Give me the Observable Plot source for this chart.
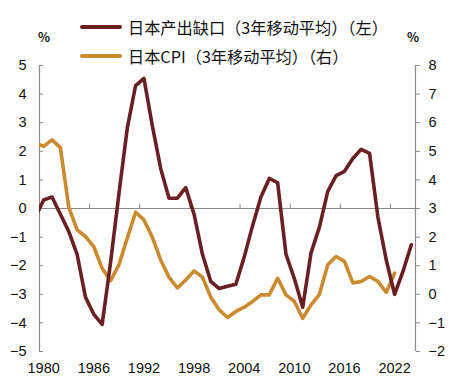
<!DOCTYPE html>
<html><head><meta charset="utf-8">
<script src="https://cdn.jsdelivr.net/npm/d3@7"></script>
<script src="https://cdn.jsdelivr.net/npm/@observablehq/plot@0.6"></script>
<style>
body{margin:0;background:#fff;}
#wrap{position:relative;width:458px;height:387px;overflow:hidden;}
.leg{position:absolute;left:80px;height:22px;line-height:22px;font-family:"Noto Sans CJK SC";font-size:16.2px;color:#111;display:flex;align-items:center;white-space:nowrap;}
.leg i{display:inline-block;width:42px;height:4px;margin-right:6px;border-radius:2px;}
.pct{position:absolute;top:27px;font-family:"Noto Sans CJK SC";font-weight:bold;font-size:12.5px;color:#111;}
</style></head>
<body>
<div id="wrap">
<div id="chart"></div>
<div class="leg" style="top:16px"><i style="background:#6a1f23"></i>日本产出缺口（3年移动平均）（左）</div>
<div class="leg" style="top:45px"><i style="background:#cc8a2e"></i>日本CPI（3年移动平均）（右）</div>
<div class="pct" style="left:38px">%</div>
<div class="pct" style="left:407px">%</div>
</div>
<script>
// Output gap (left axis, %), 3-yr moving average
const gapYears = d3.range(1979, 2025);
const gapValues = [-0.3, 0.3, 0.4, -0.2, -0.8, -1.6, -3.1, -3.7, -4.05, -1.9,
  0.5, 2.8, 4.3, 4.55, 2.9, 1.4, 0.36, 0.36, 0.73, -0.2,
  -1.6, -2.55, -2.8, -2.72, -2.65, -1.7, -0.6, 0.4, 1.05, 0.9,
  -1.6, -2.45, -3.45, -1.55, -0.65, 0.6, 1.15, 1.3, 1.75, 2.07,
  1.93, -0.3, -1.8, -3.0, -2.2, -1.27];
// CPI (right axis, %), 3-yr moving average
const cpiYears = d3.range(1979, 2023);
const cpiValues = [5.3, 5.17, 5.4, 5.13, 3.05, 2.25, 2.02, 1.67, 0.91, 0.47,
  1.03, 1.96, 2.87, 2.6, 2.0, 1.2, 0.6, 0.22, 0.5, 0.82,
  0.6, -0.1, -0.54, -0.81, -0.6, -0.45, -0.25, -0.02, -0.02, 0.56,
  -0.02, -0.25, -0.84, -0.37, 0.0, 1.03, 1.32, 1.15, 0.4, 0.45,
  0.62, 0.45, 0.07, 0.74];
const leftTicks = [-5, -4, -3, -2, -1, 0, 1, 2, 3, 4, 5];
const rightTicks = [-2, -1, 0, 1, 2, 3, 4, 5, 6, 7, 8];
const rightOffset = 3; // right axis value = left axis value + 3
const xTickYears = [1980, 1986, 1992, 1998, 2004, 2010, 2016, 2022];

const gapData = gapYears.map((year, i) => ({year, value: gapValues[i]}));
const cpiData = cpiYears.map((year, i) => ({year, value: cpiValues[i]}));
const fmt = d => d < 0 ? "\u2212" + Math.abs(d) : String(d);
const axisGray = "#8a8a8a";

const chart = Plot.plot({
  width: 458, height: 387,
  marginLeft: 39, marginRight: 43, marginTop: 65, marginBottom: 36,
  x: {domain: [1979.5, 2024.5]},
  y: {domain: [-5, 5]},
  style: {fontFamily: "'Liberation Sans', Arial, sans-serif", fontSize: "14.5px", color: "#111", background: "transparent"},
  marks: [
    Plot.ruleY([0], {stroke: axisGray, strokeWidth: 1.2}),
    Plot.ruleX([1979.5, 2024.5], {y1: -5, y2: 5, stroke: axisGray, strokeWidth: 1.2}),
    Plot.ruleX(xTickYears.slice(1).map(d => d - 0.5), {y1: 0, y2: 0.15, stroke: axisGray}),
    Plot.axisY({anchor: "left", ticks: leftTicks, tickSize: 4, dx: 4, fill: "none", stroke: axisGray, label: null}),
    Plot.axisY({anchor: "left", ticks: leftTicks, tickSize: 0, tickPadding: 13, label: null, tickFormat: fmt}),
    Plot.axisY({anchor: "right", ticks: rightTicks.map(d => d - rightOffset), tickSize: 4, tickPadding: 9, stroke: axisGray, label: null, tickFormat: d => fmt(d + rightOffset)}),
    Plot.axisX({ticks: xTickYears, tickSize: 0, tickPadding: 11, label: null, tickFormat: d => String(d)}),
    Plot.line(cpiData, {x: "year", y: d => d.value - rightOffset, stroke: "#cc8a2e", strokeWidth: 3.6, clip: true}),
    Plot.line(gapData, {x: "year", y: "value", stroke: "#6a1f23", strokeWidth: 3.6, clip: true})
  ]
});
document.getElementById("chart").appendChild(chart);
</script>
</body></html>
